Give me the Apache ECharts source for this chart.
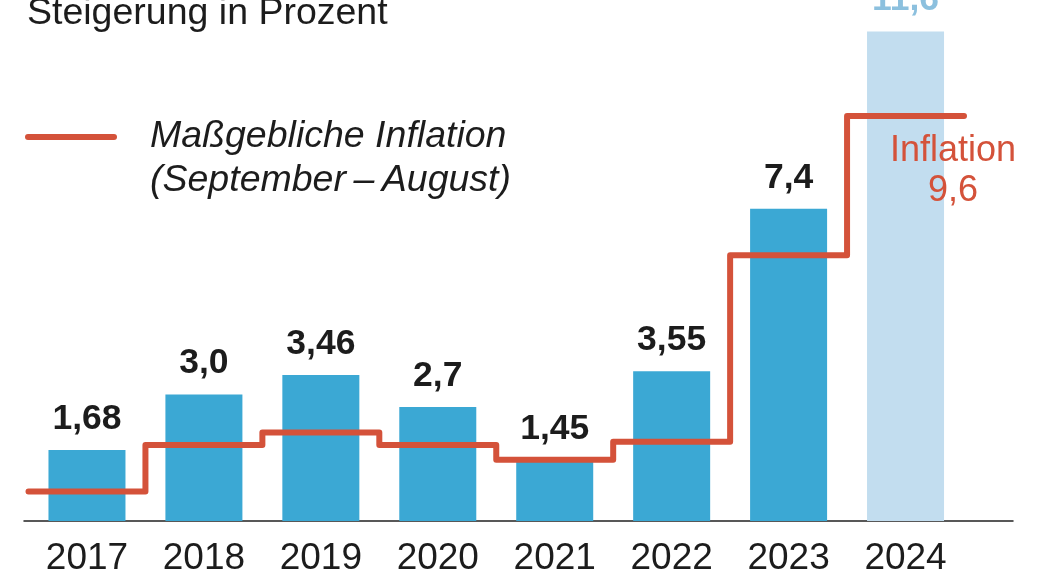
<!DOCTYPE html>
<html>
<head>
<meta charset="utf-8">
<script src="https://cdn.jsdelivr.net/npm/echarts@6/dist/echarts.min.js"></script>
<style>
html,body{margin:0;padding:0;background:#fff;}
#chart{width:1041px;height:586px;}
</style>
</head>
<body>
<div id="chart"></div>
<script>
var years = ['2017','2018','2019','2020','2021','2022','2023','2024'];
var increase = [1.68, 3.0, 3.46, 2.7, 1.45, 3.55, 7.4, 11.6];
var increaseLabels = ['1,68','3,0','3,46','2,7','1,45','3,55','7,4','11,6'];
var inflation = [0.7, 1.8, 2.1, 1.8, 1.45, 1.88, 6.3, 9.6];
var inflationLabel = 'Inflation\n9,6';
var titleText = 'Steigerung in Prozent';
var legendText = 'Maßgebliche Inflation\n(September\u2009\u2013\u2009August)';

var FONT = '"Liberation Sans", Arial, sans-serif';
var BLUE = '#3ba8d4';
var LIGHT = '#c2ddef';
var RED = '#d4523a';
var DARK = '#1c1c1c';

var chart = echarts.init(document.getElementById('chart'));

var barData = increase.map(function (v, i) {
  var last = i === increase.length - 1;
  return {
    value: v,
    itemStyle: { color: last ? LIGHT : BLUE },
    label: { color: last ? '#8cc0de' : DARK }
  };
});

// step line: each year's value held across its category band
var stepData = inflation.map(function (v, i) { return [i, v]; });
stepData.push({
  value: [inflation.length, inflation[inflation.length - 1]],
  label: {
    show: true,
    formatter: inflationLabel,
    position: 'bottom',
    distance: 15,
    offset: [-11, 0],
    align: 'center',
    color: RED,
    fontFamily: FONT,
    fontSize: 36,
    lineHeight: 40
  }
});

var gridTop = 521 - 12 * 42.2;

chart.setOption({
  animation: false,
  backgroundColor: '#fff',
  title: {
    text: titleText,
    left: 27,
    top: -5,
    padding: 0,
    textStyle: { fontFamily: FONT, fontSize: 37.5, fontWeight: 'normal', color: DARK }
  },
  graphic: [
    {
      type: 'line',
      shape: { x1: 28, y1: 137, x2: 114, y2: 137 },
      style: { stroke: RED, lineWidth: 6, lineCap: 'round' }
    },
    {
      type: 'text',
      left: 150,
      top: 115,
      style: {
        text: legendText,
        font: 'italic 37.5px ' + FONT,
        fill: DARK,
        lineHeight: 44
      }
    }
  ],
  grid: [
    { left: 28.5, right: 77, top: gridTop, bottom: 65 },
    { left: 24, right: 28, top: gridTop, bottom: 65 }
  ],
  xAxis: [
    {
      type: 'category', gridIndex: 0, data: years,
      axisLine: { show: false }, axisTick: { show: false },
      axisLabel: { fontFamily: FONT, fontSize: 37, color: DARK, margin: 19 }
    },
    {
      type: 'value', gridIndex: 0, min: 0, max: 8, show: false
    },
    {
      type: 'value', gridIndex: 1, min: 0, max: 1,
      axisLine: { show: true, lineStyle: { color: '#222', width: 1.5 } },
      axisTick: { show: false }, axisLabel: { show: false }, splitLine: { show: false }
    }
  ],
  yAxis: [
    { type: 'value', gridIndex: 0, min: 0, max: 12, show: false },
    { type: 'value', gridIndex: 1, min: 0, max: 12, show: false }
  ],
  series: [
    {
      type: 'bar',
      xAxisIndex: 0, yAxisIndex: 0,
      data: barData,
      barWidth: 77,
      label: {
        show: true,
        position: 'top',
        distance: 13,
        fontFamily: FONT,
        fontSize: 35.5,
        fontWeight: 'bold',
        formatter: function (p) { return increaseLabels[p.dataIndex]; }
      }
    },
    {
      type: 'line',
      xAxisIndex: 1, yAxisIndex: 0,
      step: 'end',
      data: stepData,
      symbol: 'circle',
      symbolSize: 0,
      showSymbol: true,
      lineStyle: { color: RED, width: 6, cap: 'round', join: 'round' },
      z: 5
    }
  ]
});
</script>
</body>
</html>
